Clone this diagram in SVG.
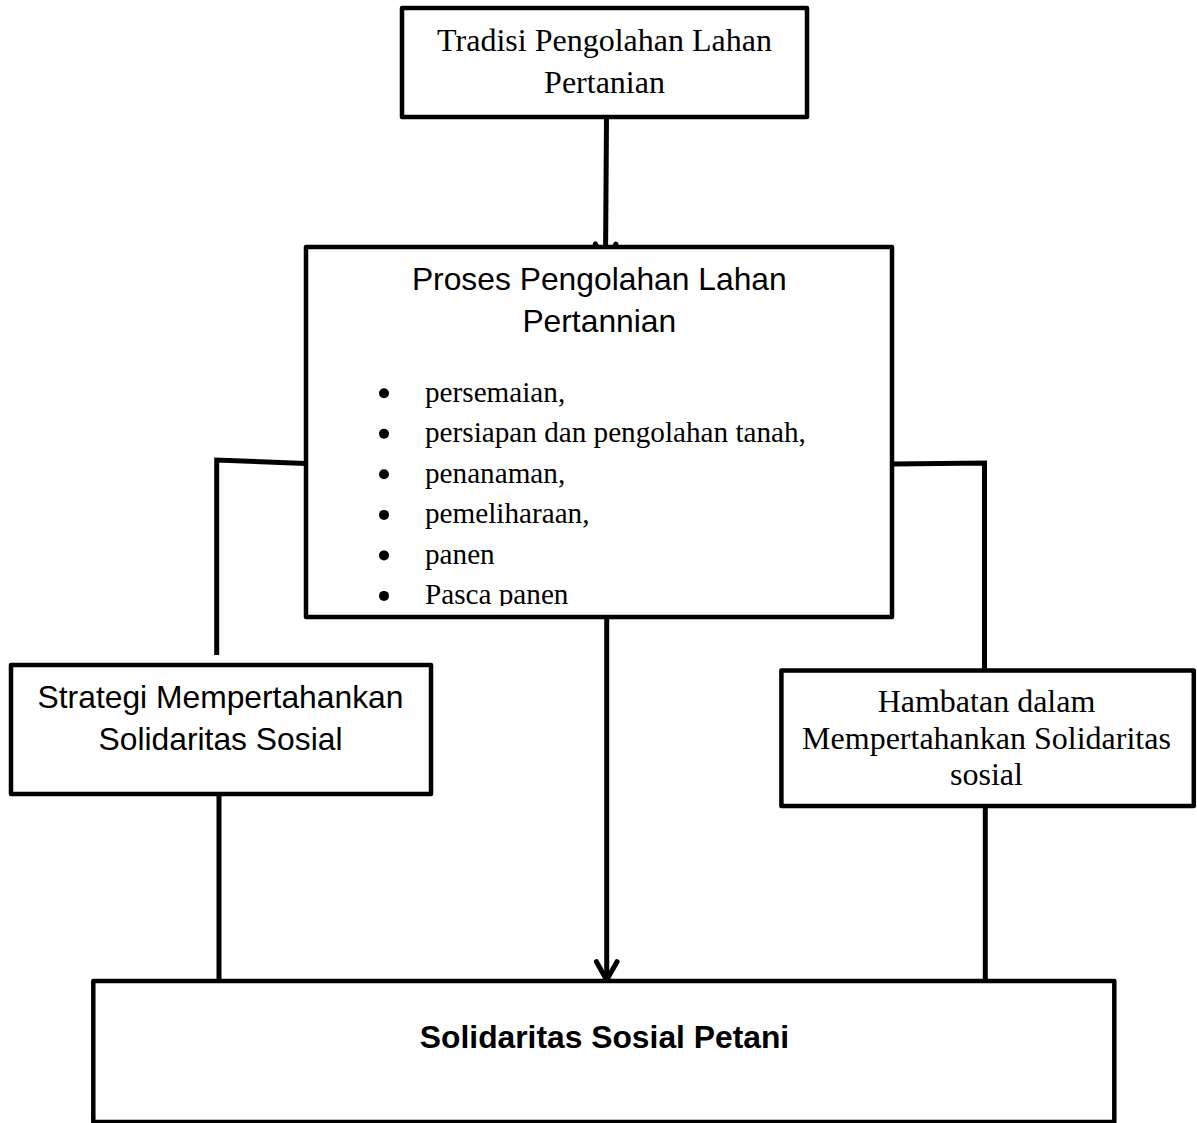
<svg xmlns="http://www.w3.org/2000/svg" width="1197" height="1123" viewBox="0 0 1197 1123">
  <style>
    .box { fill: #ffffff; stroke: #000000; stroke-width: 4.5; stroke-linejoin: round; }
    .conn { fill: none; stroke: #000000; stroke-width: 5; stroke-linecap: butt; stroke-linejoin: miter; }
    .serif { font-family: "Liberation Serif", "Times New Roman", serif; font-size: 32px; fill: #000; }
    .serif-s { font-family: "Liberation Serif", "Times New Roman", serif; font-size: 29.2px; fill: #000; }
    .sans { font-family: "Liberation Sans", Arial, sans-serif; font-size: 31.8px; fill: #000; }
    .sans-b { font-family: "Liberation Sans", Arial, sans-serif; font-size: 31.8px; font-weight: bold; fill: #000; }
    .mid { text-anchor: middle; }
  </style>
  <defs>
    <marker id="vee" markerUnits="userSpaceOnUse" viewBox="-25 -15 30 30" markerWidth="30" markerHeight="30" refX="0" refY="0" orient="auto" overflow="visible">
      <path d="M-18.3,-10.3 L0,0 L-18.3,10.3" fill="none" stroke="#000" stroke-width="5" stroke-linecap="round" stroke-linejoin="round"/>
    </marker>
    <clipPath id="listclip">
      <rect x="300" y="240" width="600" height="366"/>
    </clipPath>
  </defs>
  <rect width="1197" height="1123" fill="#ffffff"/>

  <g id="connectors">
    <line class="conn" x1="606.5" y1="117" x2="605.5" y2="262.3" marker-end="url(#vee)"/>
    <polyline class="conn" points="306,463.5 216.7,460 216.7,655"/>
    <polyline class="conn" points="893,464 984.5,463 984.5,670"/>
    <line class="conn" x1="606.7" y1="617" x2="606.7" y2="980" marker-end="url(#vee)"/>
    <line class="conn" x1="219" y1="794" x2="219" y2="981"/>
    <line class="conn" x1="985.3" y1="806" x2="985.3" y2="981"/>
  </g>

  <g id="node-tradisi">
    <rect class="box" x="402" y="8" width="405" height="109"/>
    <text class="serif mid" x="604.5" y="51">Tradisi Pengolahan Lahan</text>
    <text class="serif mid" x="604.5" y="93">Pertanian</text>
  </g>

  <g id="node-proses">
    <rect class="box" x="306" y="247" width="586" height="370"/>
    <text class="sans mid" x="599.3" y="290">Proses Pengolahan Lahan</text>
    <text class="sans mid" x="599.3" y="331.7">Pertannian</text>
    <g fill="#000">
      <circle cx="384" cy="393.3" r="5"/>
      <circle cx="384" cy="433.8" r="5"/>
      <circle cx="384" cy="474.3" r="5"/>
      <circle cx="384" cy="514.9" r="5"/>
      <circle cx="384" cy="555.4" r="5"/>
      <circle cx="384" cy="595.9" r="5"/>
    </g>
    <g clip-path="url(#listclip)">
      <text class="serif-s" x="425" y="401.7">persemaian,</text>
      <text class="serif-s" x="425" y="442.2">persiapan dan pengolahan tanah,</text>
      <text class="serif-s" x="425" y="482.7">penanaman,</text>
      <text class="serif-s" x="425" y="523.3">pemeliharaan,</text>
      <text class="serif-s" x="425" y="563.8">panen</text>
      <text class="serif-s" x="425" y="604.3">Pasca panen</text>
    </g>
  </g>

  <g id="node-strategi">
    <rect class="box" x="11" y="665" width="420" height="129"/>
    <text class="sans mid" x="220.5" y="708">Strategi Mempertahankan</text>
    <text class="sans mid" x="220.5" y="750">Solidaritas Sosial</text>
  </g>

  <g id="node-hambatan">
    <rect class="box" x="781.4" y="670.5" width="412.4" height="135.5"/>
    <text class="serif mid" x="986.5" y="712">Hambatan dalam</text>
    <text class="serif mid" x="986.5" y="748.5">Mempertahankan Solidaritas</text>
    <text class="serif mid" x="986.5" y="785">sosial</text>
  </g>

  <g id="node-solidaritas">
    <rect class="box" x="93.3" y="981" width="1021" height="141"/>
    <text class="sans-b mid" x="604.5" y="1048">Solidaritas Sosial Petani</text>
  </g>
</svg>
